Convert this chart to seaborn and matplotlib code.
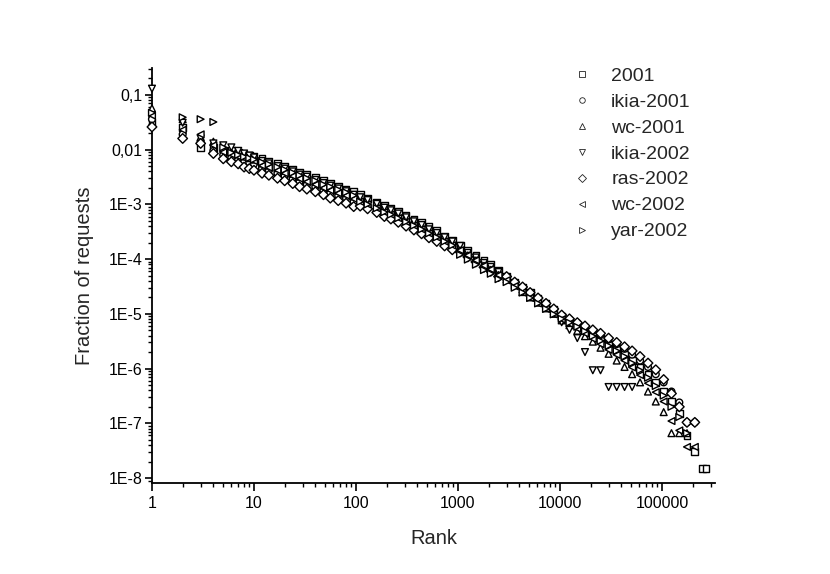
import numpy as np
import pandas as pd
import seaborn as sns
import matplotlib
matplotlib.use('Agg')
import matplotlib.pyplot as plt
from matplotlib.lines import Line2D
from matplotlib.ticker import FixedLocator, FixedFormatter, LogLocator, NullFormatter

nan = np.nan

# rank positions (shared by all series)
ranks = [1, 2, 3, 4, 5, 6, 7, 8, 9, 10,
         12, 14, 17, 20, 24, 28, 33, 40, 48, 56, 67, 80, 95,
         110, 130, 160, 190, 220, 260, 310, 370, 440, 520, 620, 740, 880,
         1050, 1250, 1500, 1800, 2100, 2500, 3000, 3600, 4300, 5100, 6100, 7300, 8700,
         10400, 12400, 14800, 17600, 21000, 25000, 30000, 36000, 43000, 51000, 61000, 73000, 87000,
         104000, 124000, 148000, 176000, 210000, 250000, 270000]

# fraction of requests per series (nan = series already ended)
frac_2001 = [3.1e-2, 2.5e-2, 1.1e-2, 1.1e-2, 9.5e-3, 9.5e-3, 8.8e-3, 8.2e-3, 7.8e-3, 7.4e-3,
             6.8e-3, 6.2e-3, 5.5e-3, 4.9e-3, 4.4e-3, 3.9e-3, 3.5e-3, 3.1e-3, 2.7e-3, 2.4e-3, 2.1e-3, 1.9e-3, 1.7e-3,
             1.5e-3, 1.3e-3, 1.1e-3, 9.5e-4, 8.5e-4, 7.4e-4, 6.3e-4, 5.4e-4, 4.6e-4, 3.9e-4, 3.3e-4, 2.6e-4, 2.2e-4,
             1.8e-4, 1.45e-4, 1.17e-4, 9.3e-5, 7.9e-5, 6.3e-5, 4.8e-5, 3.8e-5, 3.1e-5, 2.5e-5, 1.95e-5, 1.55e-5, 1.23e-5,
             8.9e-6, 7.4e-6, 6.2e-6, 5.1e-6, 4.3e-6, 3.5e-6, 2.8e-6, 2.3e-6, 1.8e-6, 1.4e-6, 1.07e-6, 7.9e-7, 5.6e-7,
             3.8e-7, 2.5e-7, 1.5e-7, 6e-8, 3e-8, 1.5e-8, 1.5e-8]
frac_ikia_2001 = [3.6e-2, 1.9e-2, 1.4e-2, 9.5e-3, 8.0e-3, 7.2e-3, 6.6e-3, 6.2e-3, 5.8e-3, 5.5e-3,
                  4.6e-3, 4.2e-3, 3.7e-3, 3.3e-3, 2.95e-3, 2.6e-3, 2.3e-3, 2.1e-3, 1.8e-3, 1.6e-3, 1.45e-3, 1.3e-3, 1.12e-3,
                  1.0e-3, 8.9e-4, 7.6e-4, 6.5e-4, 5.8e-4, 5.0e-4, 4.6e-4, 3.9e-4, 3.3e-4, 2.8e-4, 2.4e-4, 2.0e-4, 1.7e-4,
                  1.38e-4, 1.12e-4, 9.1e-5, 7.2e-5, 6.2e-5, 4.9e-5, 4.6e-5, 3.6e-5, 2.95e-5, 2.3e-5, 1.86e-5, 1.48e-5, 1.17e-5,
                  9.3e-6, 7.9e-6, 6.8e-6, 5.8e-6, 4.9e-6, 4.1e-6, 3.4e-6, 2.8e-6, 2.3e-6, 1.8e-6, 1.4e-6, 1.07e-6, 7.9e-7,
                  5.6e-7, 3.8e-7, 2.4e-7, 1.04e-7, 1.04e-7, nan, nan]
frac_wc_2001 = [5.7e-2, 3.6e-2, 1.7e-2, 1.4e-2, 1.05e-2, 9.0e-3, 8.2e-3, 7.5e-3, 7.0e-3, 6.6e-3,
                5.6e-3, 5.1e-3, 4.6e-3, 4.1e-3, 3.6e-3, 3.2e-3, 2.9e-3, 2.6e-3, 2.2e-3, 2.0e-3, 1.8e-3, 1.6e-3, 1.4e-3,
                1.23e-3, 1.1e-3, 9.3e-4, 7.9e-4, 7.1e-4, 6.2e-4, 5.2e-4, 4.5e-4, 3.8e-4, 3.2e-4, 2.75e-4, 2.3e-4, 1.95e-4,
                1.5e-4, 1.23e-4, 1.0e-4, 7.9e-5, 6.8e-5, 5.4e-5, 4.3e-5, 3.4e-5, 2.5e-5, 2.0e-5, 1.6e-5, 1.26e-5, 1.0e-5,
                7.6e-6, 6.2e-6, 4.9e-6, 3.9e-6, 3.1e-6, 2.4e-6, 1.86e-6, 1.4e-6, 1.07e-6, 7.9e-7, 5.6e-7, 3.8e-7, 2.5e-7,
                1.6e-7, 6.6e-8, 6.6e-8, 6.6e-8, nan, nan, nan]
frac_ikia_2002 = [1.3e-1, 3.1e-2, 1.6e-2, 1.3e-2, 1.2e-2, 1.1e-2, 9.5e-3, 8.5e-3, 7.8e-3, 7.2e-3,
                  6.2e-3, 5.6e-3, 5.0e-3, 4.5e-3, 4.0e-3, 3.5e-3, 3.2e-3, 2.8e-3, 2.45e-3, 2.2e-3, 1.95e-3, 1.74e-3, 1.5e-3,
                  1.35e-3, 1.2e-3, 1.02e-3, 8.7e-4, 7.8e-4, 6.8e-4, 5.8e-4, 4.9e-4, 4.2e-4, 3.5e-4, 3.0e-4, 2.5e-4, 2.1e-4,
                  1.74e-4, 1.3e-4, 1.07e-4, 8.5e-5, 7.2e-5, 5.8e-5, 4.6e-5, 3.6e-5, 2.75e-5, 2.2e-5, 1.74e-5, 1.4e-5, 1.1e-5,
                  7.0e-6, 5.1e-6, 3.6e-6, 2.0e-6, 9.3e-7, 9.3e-7, 4.6e-7, 4.6e-7, 4.6e-7, 4.6e-7, nan, nan, nan,
                  nan, nan, nan, nan, nan, nan, nan]
frac_ras_2002 = [2.6e-2, 1.6e-2, 1.3e-2, 8.5e-3, 6.8e-3, 6.0e-3, 5.5e-3, 4.8e-3, 4.5e-3, 4.2e-3,
                 3.7e-3, 3.4e-3, 3.0e-3, 2.7e-3, 2.4e-3, 2.1e-3, 1.9e-3, 1.7e-3, 1.5e-3, 1.3e-3, 1.17e-3, 1.05e-3, 9.1e-4,
                 9.3e-4, 8.3e-4, 7.1e-4, 6.0e-4, 5.4e-4, 4.7e-4, 4.0e-4, 3.4e-4, 2.9e-4, 2.45e-4, 2.1e-4, 1.74e-4, 1.48e-4,
                 1.35e-4, 1.1e-4, 8.9e-5, 7.1e-5, 6.0e-5, 4.8e-5, 4.8e-5, 3.8e-5, 3.1e-5, 2.45e-5, 1.95e-5, 1.55e-5, 1.23e-5,
                 9.5e-6, 8.1e-6, 6.9e-6, 6.0e-6, 5.1e-6, 4.4e-6, 3.6e-6, 3.0e-6, 2.5e-6, 2.1e-6, 1.66e-6, 1.26e-6, 9.5e-7,
                 6.3e-7, 3.5e-7, 2.0e-7, 1.04e-7, 1.04e-7, nan, nan]
frac_wc_2002 = [4.2e-2, 2.3e-2, 1.9e-2, 1.2e-2, 9.0e-3, 8.2e-3, 7.5e-3, 7.0e-3, 6.6e-3, 6.2e-3,
                5.1e-3, 4.7e-3, 4.2e-3, 3.7e-3, 3.3e-3, 2.95e-3, 2.6e-3, 2.3e-3, 2.0e-3, 1.8e-3, 1.6e-3, 1.45e-3, 1.26e-3,
                1.12e-3, 1.0e-3, 8.5e-4, 7.2e-4, 6.5e-4, 5.6e-4, 4.8e-4, 4.1e-4, 3.5e-4, 2.95e-4, 2.5e-4, 2.1e-4, 1.78e-4,
                1.45e-4, 1.17e-4, 9.5e-5, 7.6e-5, 6.5e-5, 5.1e-5, 4.1e-5, 3.2e-5, 2.45e-5, 1.95e-5, 1.55e-5, 1.23e-5, 9.8e-6,
                7.9e-6, 6.6e-6, 5.4e-6, 4.4e-6, 3.5e-6, 2.8e-6, 2.2e-6, 1.78e-6, 1.4e-6, 1.05e-6, 7.6e-7, 5.4e-7, 3.7e-7,
                2.5e-7, 1.1e-7, 7.4e-8, 3.7e-8, 3.7e-8, nan, nan]
frac_yar_2002 = [4.7e-2, 3.9e-2, 3.6e-2, 3.2e-2, 1.1e-2, 8.8e-3, 8.0e-3, 7.4e-3, 7.0e-3, 6.6e-3,
                 5.9e-3, 5.4e-3, 4.8e-3, 4.3e-3, 3.8e-3, 3.4e-3, 3.0e-3, 2.7e-3, 2.3e-3, 2.1e-3, 1.86e-3, 1.66e-3, 1.45e-3,
                 1.12e-3, 1.0e-3, 8.5e-4, 7.2e-4, 6.5e-4, 5.6e-4, 4.8e-4, 4.1e-4, 3.5e-4, 2.95e-4, 2.5e-4, 2.1e-4, 1.78e-4,
                 1.2e-4, 9.8e-5, 7.9e-5, 6.3e-5, 5.4e-5, 4.3e-5, 3.8e-5, 3.0e-5, 2.45e-5, 1.95e-5, 1.55e-5, 1.23e-5, 9.8e-6,
                 8.1e-6, 6.9e-6, 5.8e-6, 4.8e-6, 3.9e-6, 3.2e-6, 2.6e-6, 2.1e-6, 1.66e-6, 1.26e-6, 9.3e-7, 6.8e-7, 4.8e-7,
                 3.2e-7, 2.0e-7, 1.3e-7, 6.6e-8, nan, nan, nan]

series_names = ['2001', 'ikia-2001', 'wc-2001', 'ikia-2002', 'ras-2002', 'wc-2002', 'yar-2002']
series_values = [frac_2001, frac_ikia_2001, frac_wc_2001, frac_ikia_2002,
                 frac_ras_2002, frac_wc_2002, frac_yar_2002]
marker_map = {'2001': 's', 'ikia-2001': 'o', 'wc-2001': '^', 'ikia-2002': 'v',
              'ras-2002': 'D', 'wc-2002': '<', 'yar-2002': '>'}

xtick_vals = [1, 10, 100, 1000, 10000, 100000]
xtick_labels = ['1', '10', '100', '1000', '10000', '100000']
ytick_vals = [1e-8, 1e-7, 1e-6, 1e-5, 1e-4, 1e-3, 1e-2, 1e-1]
ytick_labels = ['1E-8', '1E-7', '1E-6', '1E-5', '1E-4', '1E-3', '0,01', '0,1']

# long table for seaborn
df = pd.DataFrame({name: vals for name, vals in zip(series_names, series_values)})
df['rank'] = ranks
df = df.melt(id_vars='rank', var_name='series', value_name='fraction').dropna()

sns.set_style('ticks')
plt.rcParams['font.family'] = ['Liberation Sans', 'DejaVu Sans']

fig = plt.figure(figsize=(8.3, 5.74), dpi=100)
ax = fig.add_axes([0.1831, 0.1585, 0.6783, 0.7230])

sns.scatterplot(data=df, x='rank', y='fraction', style='series', style_order=series_names,
                markers=marker_map, color='white', edgecolor='black', linewidth=1.0,
                s=24, legend=False, ax=ax, clip_on=False, zorder=3)

ax.set_xscale('log')
ax.set_yscale('log')
ax.set_xlim(1, 331000)
ax.set_ylim(8.1e-9, 0.31)

ax.xaxis.set_major_locator(FixedLocator(xtick_vals))
ax.xaxis.set_major_formatter(FixedFormatter(xtick_labels))
ax.xaxis.set_minor_locator(LogLocator(base=10, subs=np.arange(2, 10), numticks=20))
ax.xaxis.set_minor_formatter(NullFormatter())
ax.yaxis.set_major_locator(FixedLocator(ytick_vals))
ax.yaxis.set_major_formatter(FixedFormatter(ytick_labels))
ax.yaxis.set_minor_locator(LogLocator(base=10, subs=np.arange(2, 10), numticks=20))
ax.yaxis.set_minor_formatter(NullFormatter())

sns.despine(ax=ax)
for side in ['left', 'bottom']:
    ax.spines[side].set_linewidth(1.3)
    ax.spines[side].set_color('black')
ax.tick_params(axis='x', which='major', direction='out', length=6, width=1.2, pad=3,
               labelsize=11.5, colors='black')
ax.tick_params(axis='y', which='major', direction='out', length=5, width=1.2, pad=2,
               labelsize=11.5, colors='black')
ax.tick_params(which='minor', direction='out', length=3, width=1.0, colors='black')

ax.set_xlabel('Rank', fontsize=14.5, labelpad=13)
ax.set_ylabel('Fraction of requests', fontsize=14.5, labelpad=10)

handles = [Line2D([], [], marker=marker_map[n], linestyle='none', markerfacecolor='white',
                  markeredgecolor='#222222', markeredgewidth=0.6, markersize=4)
           for n in series_names]
ax.legend(handles, series_names, loc='upper left', bbox_to_anchor=(0.6895, 0.8833),
          bbox_transform=fig.transFigure, frameon=False, fontsize=14,
          handlelength=1.0, handletextpad=1.0, labelspacing=0.43,
          borderpad=0, borderaxespad=0)

fig.savefig('out.png', dpi=100)
